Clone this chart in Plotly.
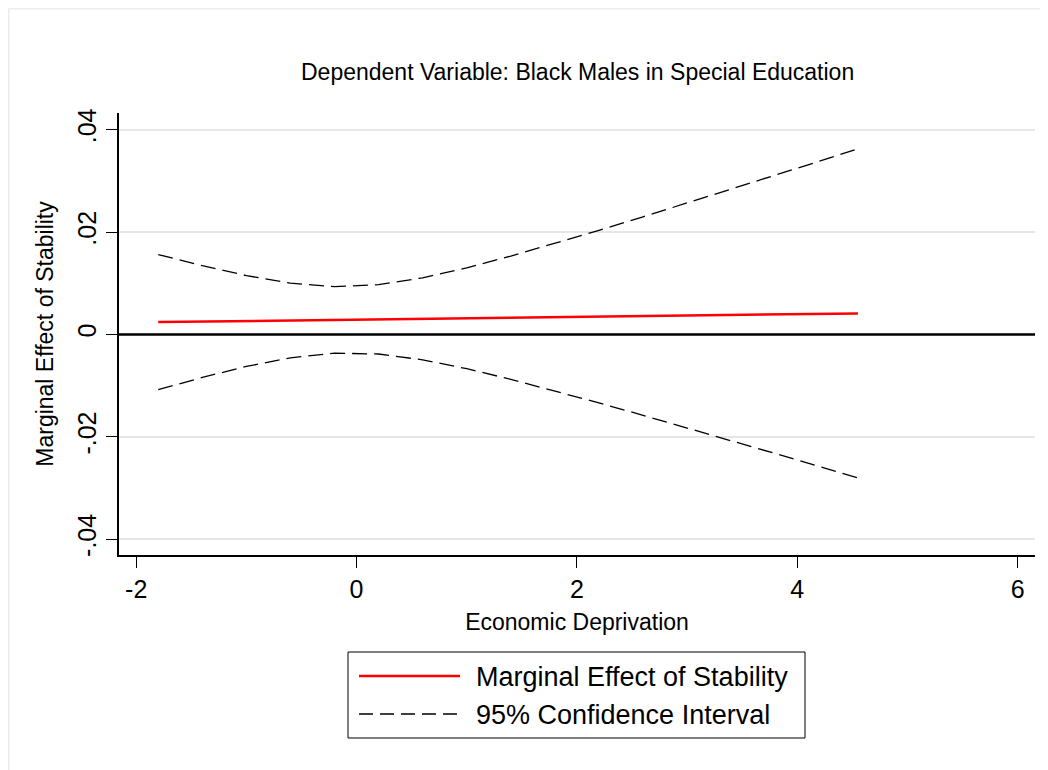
import plotly.graph_objects as go

# Data
econ_dep = [-1.8, -1.4, -1.0, -0.6, -0.2, 0.2, 0.6, 1.0, 1.4, 1.8, 2.2, 2.6, 3.0, 3.4, 3.8, 4.2, 4.55]
marginal_effect = [0.00240, 0.00251, 0.00261, 0.00272, 0.00283, 0.00294, 0.00304, 0.00315, 0.00326,
                   0.00337, 0.00347, 0.00358, 0.00369, 0.00380, 0.00390, 0.00401, 0.00410]
ci_upper = [0.01560, 0.01343, 0.01149, 0.01001, 0.00933, 0.00971, 0.01105, 0.01301, 0.01530,
            0.01776, 0.02033, 0.02297, 0.02565, 0.02836, 0.03108, 0.03383, 0.03624]
ci_lower = [-0.01080, -0.00841, -0.00627, -0.00457, -0.00367, -0.00383, -0.00497, -0.00671, -0.00878,
            -0.01102, -0.01339, -0.01581, -0.01827, -0.02076, -0.02328, -0.02581, -0.02804]

x_ticks = [-2, 0, 2, 4, 6]
y_ticks = [-0.04, -0.02, 0, 0.02, 0.04]
y_tick_labels = ["-.04", "-.02", "0", ".02", ".04"]

title_text = "Dependent Variable: Black Males in Special Education"
x_title = "Economic Deprivation"
y_title = "Marginal Effect of Stability"
legend_names = ["Marginal Effect of Stability", "95% Confidence Interval"]

FONT = "Liberation Sans, Arial, sans-serif"
OFF = 8  # page body margin
W, H = 1040, 762
L, R, T, B = 111, 13, 105, 215
PW, PH = W - L - R, H - T - B


def px(x_page):
    return (x_page - OFF - L) / PW


def py(y_page):
    return (H - B - (y_page - OFF)) / PH


DASH = "15px,7px"

fig = go.Figure()
fig.add_trace(go.Scatter(x=econ_dep, y=ci_upper, mode="lines", name=legend_names[1],
                         line=dict(color="black", width=1.3, dash=DASH), showlegend=False))
fig.add_trace(go.Scatter(x=econ_dep, y=ci_lower, mode="lines", name=legend_names[1],
                         line=dict(color="black", width=1.3, dash=DASH), showlegend=False))
fig.add_trace(go.Scatter(x=econ_dep, y=marginal_effect, mode="lines", name=legend_names[0],
                         line=dict(color="red", width=2.5), showlegend=False))

shapes = []
# zero reference line
shapes.append(dict(type="line", xref="paper", yref="y", x0=0, x1=1, y0=0, y1=0,
                   line=dict(color="black", width=2.5), layer="above"))
# faint page frame (top and left)
shapes.append(dict(type="line", xref="paper", yref="paper", x0=px(8.75), x1=px(1048), y0=py(8.75), y1=py(8.75),
                   line=dict(color="#ececec", width=1.5)))
shapes.append(dict(type="line", xref="paper", yref="paper", x0=px(8.75), x1=px(8.75), y0=py(8.75), y1=py(770),
                   line=dict(color="#ececec", width=1.5)))
# legend box
shapes.append(dict(type="rect", xref="paper", yref="paper", x0=px(348), x1=px(805), y0=py(738), y1=py(652),
                   line=dict(color="black", width=1), fillcolor="white"))
shapes.append(dict(type="line", xref="paper", yref="paper", x0=px(359), x1=px(460), y0=py(676), y1=py(676),
                   line=dict(color="red", width=2.5)))
shapes.append(dict(type="line", xref="paper", yref="paper", x0=px(359), x1=px(460), y0=py(714), y1=py(714),
                   line=dict(color="black", width=1.3, dash="14px,7px")))

annotations = [
    dict(text=title_text, xref="paper", yref="paper", x=px(577), y=py(72), xanchor="center", yanchor="middle",
         showarrow=False, font=dict(family=FONT, size=23, color="black")),
    dict(text=legend_names[0], xref="paper", yref="paper", x=px(474), y=py(677), xanchor="left", yanchor="middle",
         showarrow=False, font=dict(family=FONT, size=27, color="black")),
    dict(text=legend_names[1], xref="paper", yref="paper", x=px(474), y=py(715), xanchor="left", yanchor="middle",
         showarrow=False, font=dict(family=FONT, size=27, color="black")),
]

fig.update_layout(
    width=W, height=H,
    margin=dict(l=L, r=R, t=T, b=B),
    paper_bgcolor="white", plot_bgcolor="white",
    showlegend=False,
    shapes=shapes,
    annotations=annotations,
    font=dict(family=FONT, color="black"),
)
fig.update_xaxes(
    range=[-2.156, 6.157], tickvals=x_ticks, ticktext=[str(v) for v in x_ticks],
    showgrid=False, zeroline=False, showline=True, linecolor="black", linewidth=1.5,
    ticks="outside", ticklen=11, tickwidth=1.2, tickcolor="black",
    tickfont=dict(family=FONT, size=25),
    title=dict(text=x_title, font=dict(family=FONT, size=23), standoff=12),
)
fig.update_yaxes(
    range=[-0.0431, 0.04325], tickvals=y_ticks, ticktext=y_tick_labels, tickangle=-90,
    showgrid=True, gridcolor="#e6e6e6", gridwidth=2, zeroline=False,
    showline=True, linecolor="black", linewidth=1.5,
    ticks="outside", ticklen=11, tickwidth=1.2, tickcolor="black",
    tickfont=dict(family=FONT, size=25),
    title=dict(text=y_title, font=dict(family=FONT, size=23), standoff=13),
)

fig.write_html("out.html")
